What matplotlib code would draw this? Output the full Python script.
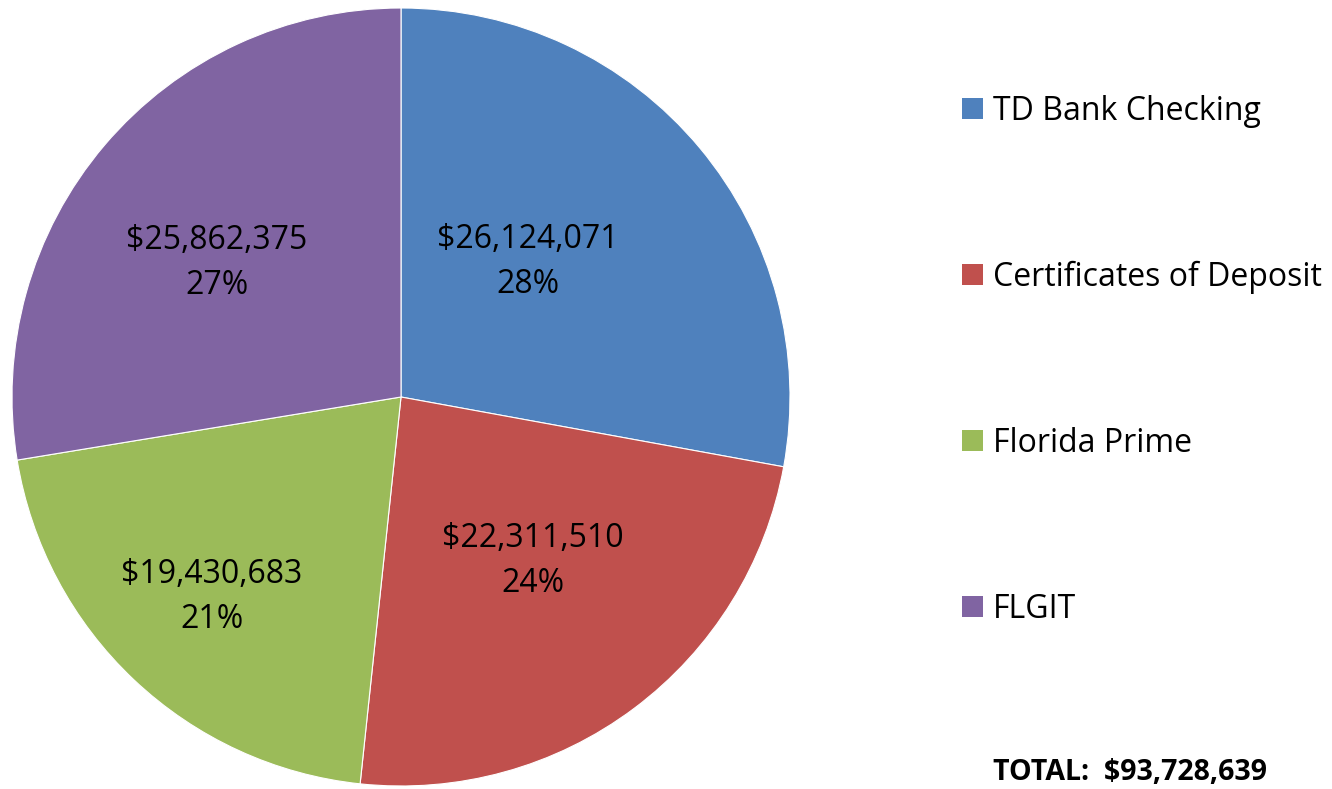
import matplotlib.pyplot as plt
from matplotlib.patches import Rectangle

labels = ['TD Bank Checking', 'Certificates of Deposit', 'Florida Prime', 'FLGIT']
values = [26124071, 22311510, 19430683, 25862375]
pct_labels = ['28%', '24%', '21%', '27%']
colors = ['#4F81BD', '#C0504D', '#9BBB59', '#8064A2']
total_text = 'TOTAL:  $93,728,639'

plt.rcParams['font.family'] = ['Open Sans', 'DejaVu Sans']

W, H = 1332, 789
fig = plt.figure(figsize=(W / 100, H / 100), dpi=100)

# pie axes: centre (401, 397), radius ~389 px
cx, cy, r = 401, 397, 389
ax = fig.add_axes([(cx - r) / W, (H - cy - r) / H, 2 * r / W, 2 * r / H])

wedges, _ = ax.pie(values, colors=colors, startangle=90, counterclock=False,
                   wedgeprops=dict(edgecolor='white', linewidth=0.8), radius=1.0)

# data label spots (Excel "best fit"), in pie-radius units
label_pos = [(0.326, 0.347), (0.339, -0.422), (-0.486, -0.514), (-0.473, 0.345)]
for v, p, (x, y) in zip(values, pct_labels, label_pos):
    ax.text(x, y, '${:,}\n{}'.format(v, p), fontsize=23, ha='center', va='center',
            linespacing=1.5, multialignment='center')

ax.set_xlim(-1, 1)
ax.set_ylim(-1, 1)
ax.set_aspect('equal')
ax.axis('off')

# legend drawn by hand to match spacing
legend_y = [108, 274, 440, 606]
for lab, col, y in zip(labels, colors, legend_y):
    fig.patches.append(Rectangle((962 / W, (H - y - 11) / H), 21 / W, 21 / H,
                                 facecolor=col, edgecolor='none',
                                 transform=fig.transFigure, figure=fig))
    fig.text(993 / W, (H - y - 3) / H, lab, fontsize=23, va='center', ha='left')

fig.text(993 / W, (H - 772) / H, total_text, fontsize=20.5, fontweight='bold',
         va='center', ha='left')

fig.savefig('out.png', dpi=100)
